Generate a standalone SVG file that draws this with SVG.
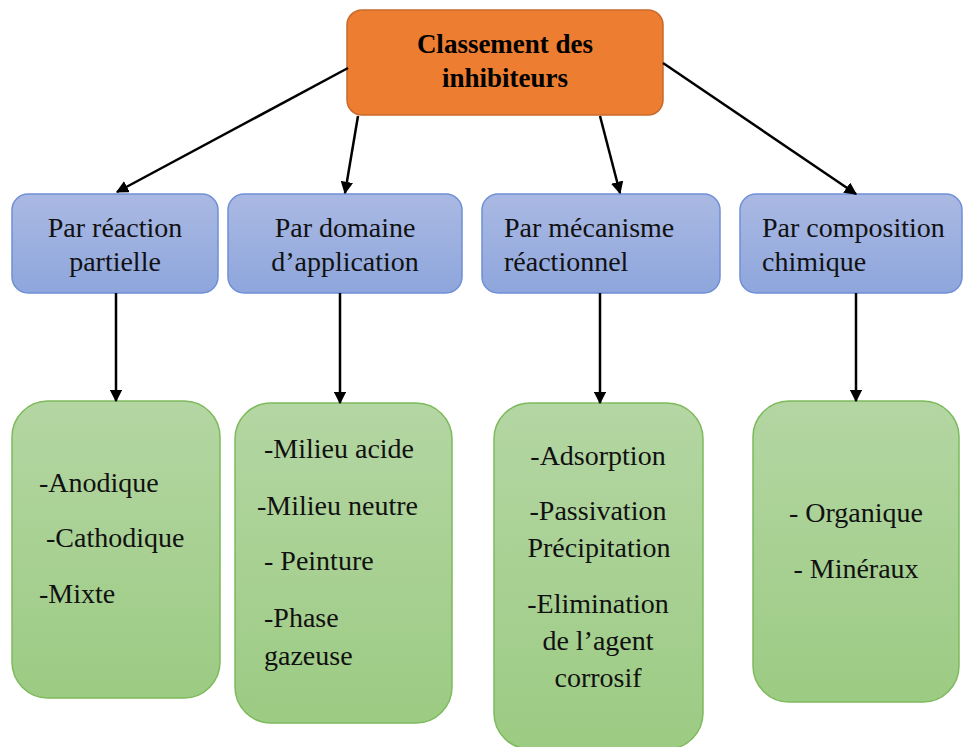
<svg xmlns="http://www.w3.org/2000/svg" width="964" height="747" viewBox="0 0 964 747">
<defs>
<linearGradient id="gb" x1="0" y1="0" x2="0" y2="1"><stop offset="0" stop-color="#aab9e3"/><stop offset="1" stop-color="#8ea6dc"/></linearGradient>
<linearGradient id="gg" x1="0" y1="0" x2="0" y2="1"><stop offset="0" stop-color="#b4d6a3"/><stop offset="1" stop-color="#9ccb83"/></linearGradient>
<marker id="ah" viewBox="0 0 10 10" refX="9" refY="5" markerWidth="5" markerHeight="5" markerUnits="strokeWidth" orient="auto"><path d="M0,0 L10,5 L0,10 z" fill="#000"/></marker>
</defs>
<style>
text{font-family:'Liberation Serif',serif;font-size:28px;fill:#111}
.tb{font-size:27px;font-weight:bold;fill:#000}
.blue{fill:url(#gb);stroke:#6f8fd6;stroke-width:1.5}
.green{fill:url(#gg);stroke:#7dba5b;stroke-width:1.5}
.c line{stroke:#000;stroke-width:2.5;marker-end:url(#ah)}
</style>
<rect width="964" height="747" fill="#fff"/>
<g id="root">
<rect x="347" y="10" width="316" height="105" rx="15" fill="#ed7d31" stroke="#c8692a" stroke-width="1.5"/>
<text class="tb" x="505" y="53" text-anchor="middle">Classement des</text>
<text class="tb" x="505" y="87" text-anchor="middle">inhibiteurs</text>
</g>
<g id="b1"><rect class="blue" x="12" y="194" width="206" height="99" rx="16"/>
<text x="115" y="237" text-anchor="middle">Par réaction</text>
<text x="115" y="271" text-anchor="middle">partielle</text></g>
<g id="b2"><rect class="blue" x="228" y="194" width="234" height="99" rx="16"/>
<text x="345" y="237" text-anchor="middle">Par domaine</text>
<text x="345" y="271" text-anchor="middle">d’application</text></g>
<g id="b3"><rect class="blue" x="482" y="194" width="238" height="99" rx="16"/>
<text x="504" y="237">Par mécanisme</text>
<text x="504" y="271">réactionnel</text></g>
<g id="b4"><rect class="blue" x="740" y="194" width="222" height="99" rx="16"/>
<text x="762" y="237">Par composition</text>
<text x="762" y="271">chimique</text></g>
<g id="g1"><rect class="green" x="12" y="401" width="208" height="297" rx="36"/>
<text x="39" y="492">-Anodique</text>
<text x="46" y="547">-Cathodique</text>
<text x="39" y="603">-Mixte</text></g>
<g id="g2"><rect class="green" x="235" y="403" width="217" height="320" rx="36"/>
<text x="264" y="458">-Milieu acide</text>
<text x="257" y="515">-Milieu neutre</text>
<text x="264" y="570">- Peinture</text>
<text x="264" y="627">-Phase</text>
<text x="264" y="665">gazeuse</text></g>
<g id="g3"><rect class="green" x="494" y="403" width="209" height="346" rx="36"/>
<text x="598" y="465" text-anchor="middle">-Adsorption</text>
<text x="598" y="520" text-anchor="middle">-Passivation</text>
<text x="599" y="557" text-anchor="middle">Précipitation</text>
<text x="598" y="613" text-anchor="middle">-Elimination</text>
<text x="598" y="650" text-anchor="middle">de l’agent</text>
<text x="598" y="687" text-anchor="middle">corrosif</text></g>
<g id="g4"><rect class="green" x="753" y="401" width="206" height="301" rx="36"/>
<text x="856" y="522" text-anchor="middle">- Organique</text>
<text x="856" y="578" text-anchor="middle">- Minéraux</text></g>
<g id="connectors" class="c">
<line x1="348" y1="68" x2="117" y2="192"/>
<line x1="358" y1="116" x2="345" y2="193"/>
<line x1="600" y1="116" x2="620" y2="193"/>
<line x1="663" y1="63" x2="856" y2="194"/>
<line x1="116" y1="293" x2="116" y2="401"/>
<line x1="340" y1="293" x2="340" y2="403"/>
<line x1="600" y1="293" x2="600" y2="403"/>
<line x1="856" y1="293" x2="856" y2="401"/>
</g>
</svg>
